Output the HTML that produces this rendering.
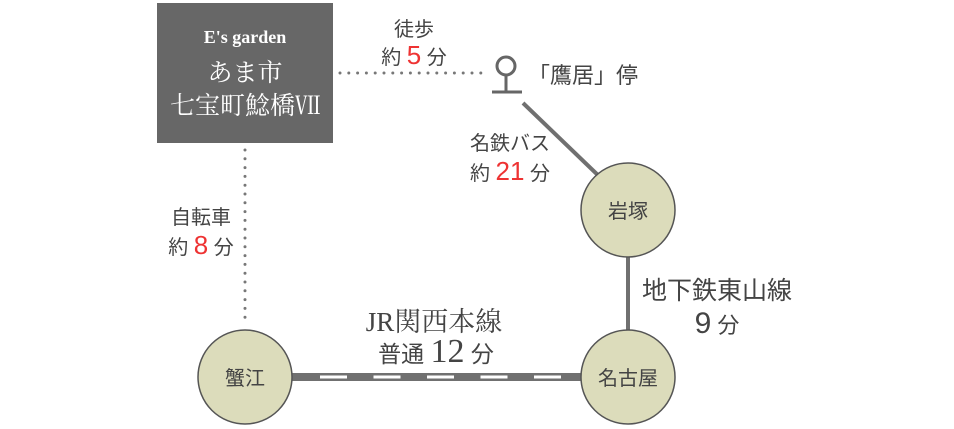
<!DOCTYPE html>
<html><head><meta charset="utf-8"><style>
html,body{margin:0;padding:0;background:#fff;width:954px;height:429px;overflow:hidden}
svg text{font-family:"Liberation Serif","Noto Serif CJK SC","Noto Sans CJK JP",serif}
.s{font-family:"Liberation Sans","Noto Sans CJK JP",sans-serif !important}
</style></head><body>
<svg width="954" height="429" viewBox="0 0 954 429" xmlns="http://www.w3.org/2000/svg">
<rect x="157" y="3" width="176" height="140" fill="#676767"/>
<text x="245" y="43" font-size="18" fill="#fff" text-anchor="middle" font-weight="bold">E's garden</text>
<text x="245" y="81" font-size="25" fill="#fff" text-anchor="middle">あま市</text>
<text x="245" y="114" font-size="25" fill="#fff" text-anchor="middle">七宝町鯰橋Ⅶ</text>
<line x1="340" y1="73" x2="482" y2="73" stroke="#777" stroke-width="3" stroke-linecap="round" stroke-dasharray="0 8.8"/>
<line x1="245" y1="150" x2="245" y2="326" stroke="#777" stroke-width="3" stroke-linecap="round" stroke-dasharray="0 8.8"/>
<circle cx="506" cy="66" r="9" fill="none" stroke="#666" stroke-width="3"/>
<line x1="506" y1="75" x2="506" y2="92" stroke="#666" stroke-width="3"/>
<line x1="492" y1="92" x2="522" y2="92" stroke="#666" stroke-width="3"/>
<text class="s" x="528" y="83" font-size="22" fill="#444">「鷹居」停</text>
<line x1="523" y1="103" x2="603" y2="180" stroke="#707070" stroke-width="4"/>
<line x1="628" y1="255" x2="628" y2="335" stroke="#707070" stroke-width="4"/>
<line x1="290" y1="377" x2="585" y2="377" stroke="#707070" stroke-width="8"/>
<line x1="320" y1="377" x2="570" y2="377" stroke="#fff" stroke-width="3" stroke-dasharray="27 26.5"/>
<g fill="#dcdcbb" stroke="#555" stroke-width="1.5">
<circle cx="628" cy="210" r="47"/>
<circle cx="628" cy="377" r="47"/>
<circle cx="245" cy="377" r="47"/>
</g>
<g class="s" fill="#444" text-anchor="middle" font-size="20">
<text class="s" x="628" y="218">岩塚</text>
<text class="s" x="628" y="385">名古屋</text>
<text class="s" x="245" y="385">蟹江</text>
</g>
<g class="s" fill="#444" font-size="20" text-anchor="middle">
<text class="s" x="414" y="36">徒歩</text>
<text class="s" x="414" y="64">約 <tspan fill="#e33" font-size="26" class="s">5</tspan> 分</text>
<text class="s" x="510" y="150">名鉄バス</text>
<text class="s" x="510" y="180">約 <tspan fill="#e33" font-size="26">21</tspan> 分</text>
<text class="s" x="201" y="224">自転車</text>
<text class="s" x="201" y="254">約 <tspan fill="#e33" font-size="26">8</tspan> 分</text>
<text class="s" x="717" y="299" font-size="25">地下鉄東山線</text>
<text class="s" x="717" y="333" font-size="22"><tspan font-size="30">9</tspan> 分</text>
</g>
<text x="434" y="331" font-size="27" fill="#444" text-anchor="middle">JR関西本線</text>
<text x="436" y="362" font-size="23" fill="#444" text-anchor="middle" class="s">普通 <tspan font-size="34" font-family="Liberation Serif,serif">12</tspan> 分</text>
</svg>
</body></html>
